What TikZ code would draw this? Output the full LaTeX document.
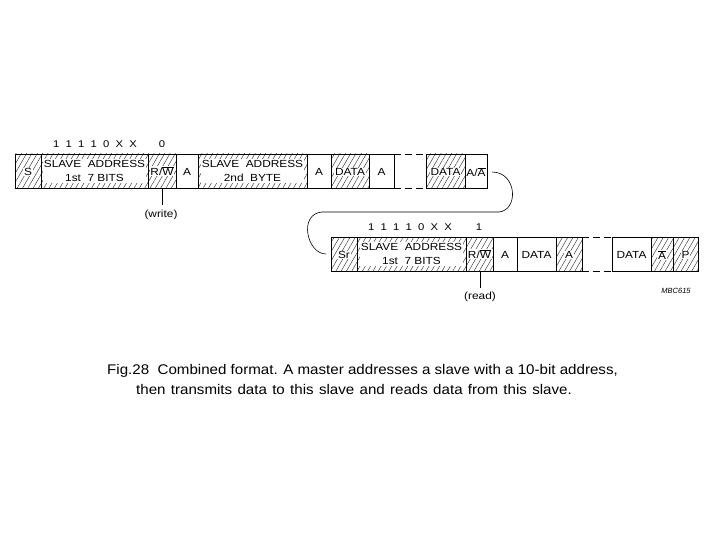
\documentclass[tikz,border=0pt]{standalone}
\usepackage{fontspec}
\setmainfont{Liberation Sans}
\newfontfamily\boxfont[FakeStretch=1.15]{Liberation Sans}
\newfontfamily\capfont[FakeStretch=1.08]{Liberation Sans}
\usetikzlibrary{patterns.meta,calc}
\tikzset{
  field/.style={draw, line width=0.75pt},
  hatched/.style={field, pattern={Lines[angle=60,distance=4.6pt,line width=0.45pt]}, pattern color=black!80},
  dashgap/.style={line width=0.75pt, dash pattern=on 7pt off 4pt},
  lbl/.style={font=\boxfont\fontsize{10.3}{13.5}\selectfont, inner sep=0.8pt, align=center},
  wlbl/.style={lbl, fill=white},
  bits/.style={font=\boxfont\fontsize{9.8}{12}\selectfont, inner sep=0pt},
  conn/.style={line width=0.6pt},
  captext/.style={anchor=west, font=\capfont\fontsize{14}{16}\selectfont, inner sep=0pt},
}
\begin{document}
\begin{tikzpicture}[x=1pt,y=-1pt]
\useasboundingbox (0,0) rectangle (720,540);
% ---------- row 1 ----------
\def\ta{154}\def\tb{188}
\draw[hatched] (15,\ta) rectangle (41,\tb);
\draw[hatched] (41,\ta) rectangle (148,\tb);
\draw[hatched] (148,\ta) rectangle (176,\tb);
\draw[field]   (176,\ta) rectangle (198,\tb);
\draw[hatched] (198,\ta) rectangle (307,\tb);
\draw[field]   (307,\ta) rectangle (331,\tb);
\draw[hatched] (331,\ta) rectangle (369,\tb);
\draw[field]   (369,\ta) rectangle (394,\tb);
\draw[dashgap] (394,\ta) -- (426,\ta) (394,\tb) -- (426,\tb);
\draw[hatched] (426,\ta) rectangle (465,\tb);
\draw[field]   (465,\ta) rectangle (487,\tb);

\node[wlbl] (s) at (28,172) {S};
\node[wlbl, inner sep=1.2pt] (sa1) at (94.5,171) {SLAVE\ \ ADDRESS\\1st\ \ 7 BITS};
\node[wlbl] (rw1) at (162,171) {R/$\overline{\mbox{W}}$};
\node[lbl] (a1) at (187,172) {A};
\node[wlbl, inner sep=1.2pt] (sa2) at (252.5,171) {SLAVE\ \ ADDRESS\\2nd\ \ BYTE};
\node[lbl] (a2) at (319,172) {A};
\node[wlbl] (d1) at (350,172) {DATA};
\node[lbl] (a3) at (381.5,172) {A};
\node[wlbl] (d2) at (445.5,172) {DATA};
\node[lbl, inner sep=0pt] (aa) at (476,172) {A/$\overline{\mbox{A}}$};
\coordinate (aaE) at (487,172);

\node[bits] (b1) at (95,144) {1\ \ 1\ \ 1\ \ 1\ \ 0\ \ X\ \ X};
\node[bits] (b0) at (162,144) {0};

\coordinate (rw1b) at (162,\tb);
\node[lbl] (wr) at (161,215) {(write)};
\draw[conn] (rw1b) -- (162,205);

% ---------- row 2 ----------
\def\tc{237}\def\td{271}
\draw[hatched] (331,\tc) rectangle (357,\td);
\draw[hatched] (357,\tc) rectangle (466,\td);
\draw[hatched] (466,\tc) rectangle (493,\td);
\draw[field]   (493,\tc) rectangle (517,\td);
\draw[field]   (517,\tc) rectangle (556,\td);
\draw[hatched] (556,\tc) rectangle (582,\td);
\draw[dashgap] (582,\tc) -- (612,\tc) (582,\td) -- (612,\td);
\draw[field]   (612,\tc) rectangle (651,\td);
\draw[hatched] (651,\tc) rectangle (673,\td);
\draw[hatched] (673,\tc) rectangle (698,\td);

\node[wlbl] (sr) at (344,255) {Sr};
\coordinate (srW) at (331,254);
\node[wlbl, inner sep=1.2pt] (sa3) at (411.5,254) {SLAVE\ \ ADDRESS\\1st\ \ 7 BITS};
\node[wlbl] (rw2) at (479.5,254) {R/$\overline{\mbox{W}}$};
\node[lbl] (a4) at (505,255) {A};
\node[lbl] (d3) at (536.5,255) {DATA};
\node[wlbl] (a5) at (569,255) {A};
\node[lbl] (d4) at (631.5,255) {DATA};
\node[wlbl] (na) at (662,255) {$\overline{\mbox{A}}$};
\node[wlbl] (p) at (685.5,255) {P};

\node[bits] (b2) at (410,227) {1\ \ 1\ \ 1\ \ 1\ \ 0\ \ X\ \ X};
\node[bits] (b3) at (479,227) {1};

\coordinate (rw2b) at (480,\td);
\node[lbl] (rd) at (480,297) {(read)};
\draw[conn] (rw2b) -- (480,288);

% ---------- connector ----------
\draw[conn, shorten <=5pt, shorten >=5pt] (aaE) .. controls +(30,0) and +(20,-2) .. (499,212)
   -- (322,212) .. controls +(-24,2) and +(-24,0) .. (srW);

\node[font=\itshape\fontsize{7.5}{8}\selectfont, inner sep=0pt] (code) at (676,291) {MBC615};

% ---------- caption ----------
\node[captext] (cap1) at (107,371) {Fig.28\ \ Combined format. A master addresses a slave with a 10-bit address,};
\node[captext] (cap2) at (136,389) {\spaceskip=5.3pt then transmits data to this slave and reads data from this slave.};
\end{tikzpicture}
\end{document}
